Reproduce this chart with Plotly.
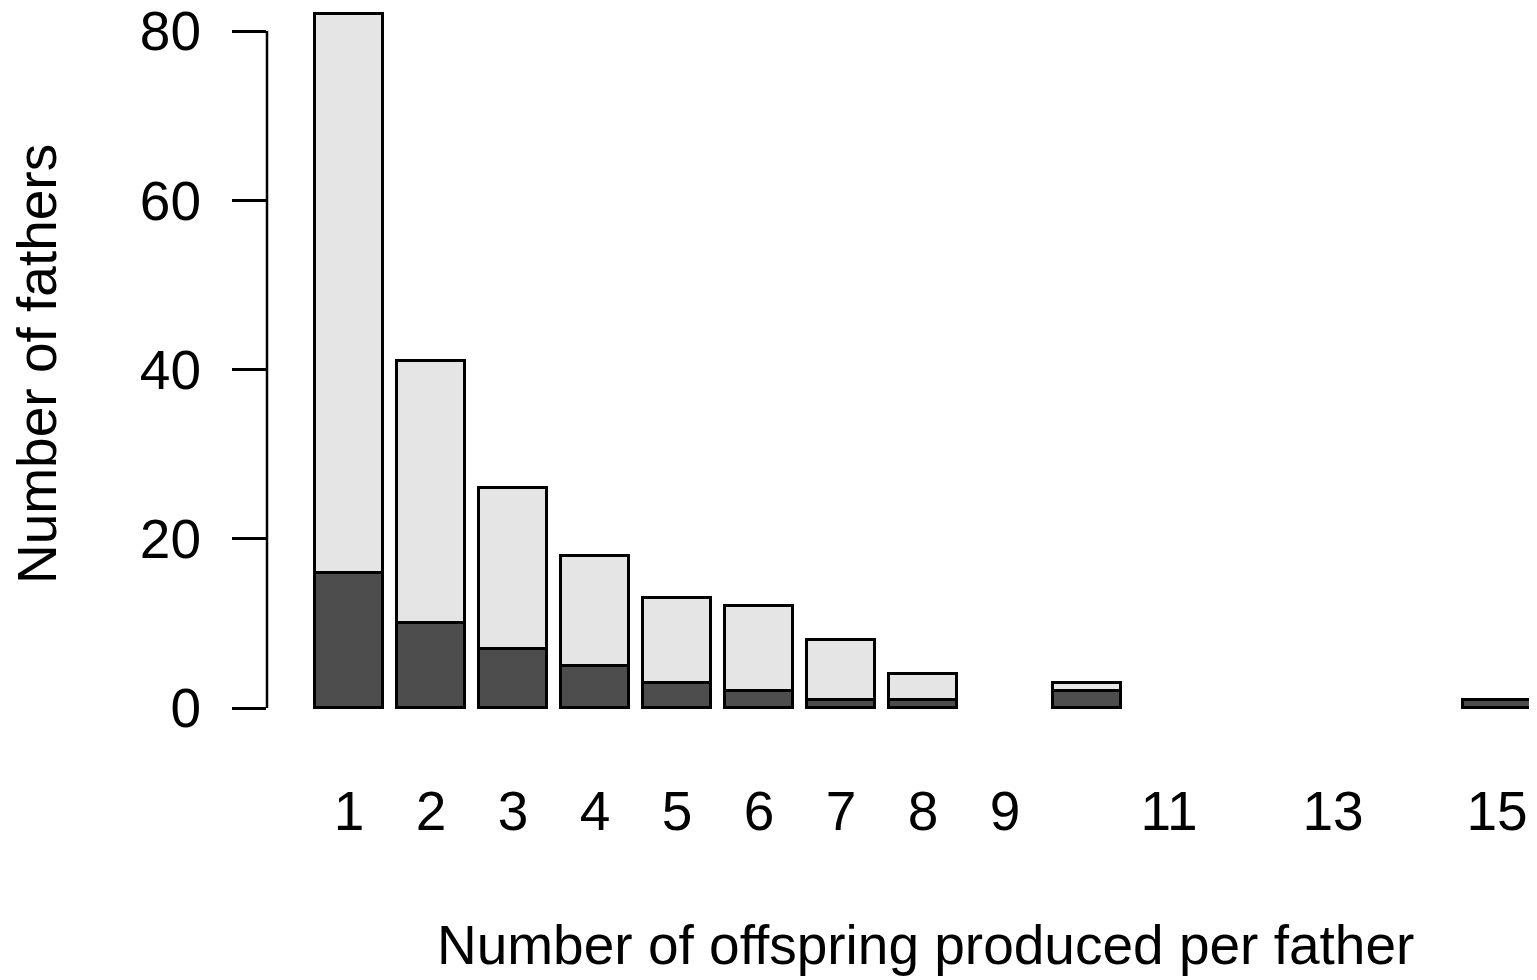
import plotly.graph_objects as go

offspring = [1, 2, 3, 4, 5, 6, 7, 8, 10, 15]
dark_counts = [16, 10, 7, 5, 3, 2, 1, 1, 2, 1]
light_counts = [66, 31, 19, 13, 10, 10, 7, 3, 1, 0]

x_tickvals = [1, 2, 3, 4, 5, 6, 7, 8, 9, 11, 13, 15]
x_ticktext = ["1", "2", "3", "4", "5", "6", "7", "8", "9", "11", "13", "15"]
y_tickvals = [0, 20, 40, 60, 80]

FONT = "Liberation Sans, Arial, sans-serif"
fs = 55

fig = go.Figure()
fig.add_trace(go.Bar(x=offspring, y=dark_counts, width=1 / 1.2,
                     marker=dict(color="#4d4d4d", line=dict(color="black", width=3)),
                     showlegend=False))
fig.add_trace(go.Bar(x=offspring, y=light_counts, width=1 / 1.2,
                     marker=dict(color="#e5e5e5", line=dict(color="black", width=3)),
                     showlegend=False))

# y-axis line spanning tick range (R style)
fig.add_shape(type="line", xref="paper", yref="y", x0=0, x1=0,
              y0=min(y_tickvals), y1=max(y_tickvals),
              line=dict(color="black", width=2.5))

OFF = 8  # page body margin
W, H = 1537 - OFF, 980 - OFF
# screen coordinates
left_s, right_s = 267, 1537
top_s, bottom_s = 10, 774
ppu = 677 / 80.0
y0px = 708
ytop = (y0px - top_s) / ppu
ybot = (y0px - bottom_s) / ppu
xleft = 1 + (left_s - 349) / 82.0
xright = 1 + (right_s - 349) / 82.0

left, right = left_s - OFF, right_s - OFF
top, bottom = top_s - OFF, bottom_s - OFF

fig.update_layout(
    width=W, height=H,
    margin=dict(l=left, r=W - right, t=top, b=H - bottom, autoexpand=False),
    barmode="stack", bargap=0,
    plot_bgcolor="white", paper_bgcolor="white",
    font=dict(family=FONT, size=fs, color="black"),
    xaxis=dict(range=[xleft, xright], tickvals=x_tickvals, ticktext=x_ticktext,
               showgrid=False, zeroline=False, showline=False, ticks="",
               tickfont=dict(size=fs), ticklabelstandoff=0,
               ticklabeloverflow="allow"),
    yaxis=dict(range=[ybot, ytop], tickvals=y_tickvals, showgrid=False,
               zeroline=False, showline=False, ticks="outside", ticklen=34,
               tickwidth=2.5, tickcolor="black", tickfont=dict(size=fs),
               ticklabelstandoff=20, ticklabeloverflow="allow"),
)

fig.add_annotation(text="Number of fathers", xref="paper", yref="paper",
                   x=(37 - left_s) / (right_s - left_s), y=(bottom_s - 364) / (bottom_s - top_s),
                   textangle=-90, showarrow=False, font=dict(size=fs),
                   xanchor="center", yanchor="middle")
fig.add_annotation(text="Number of offspring produced per father", xref="paper", yref="paper",
                   x=(925 - left_s) / (right_s - left_s), y=(bottom_s - 945) / (bottom_s - top_s),
                   showarrow=False, font=dict(size=fs),
                   xanchor="center", yanchor="middle")

fig.write_html("out.html")
